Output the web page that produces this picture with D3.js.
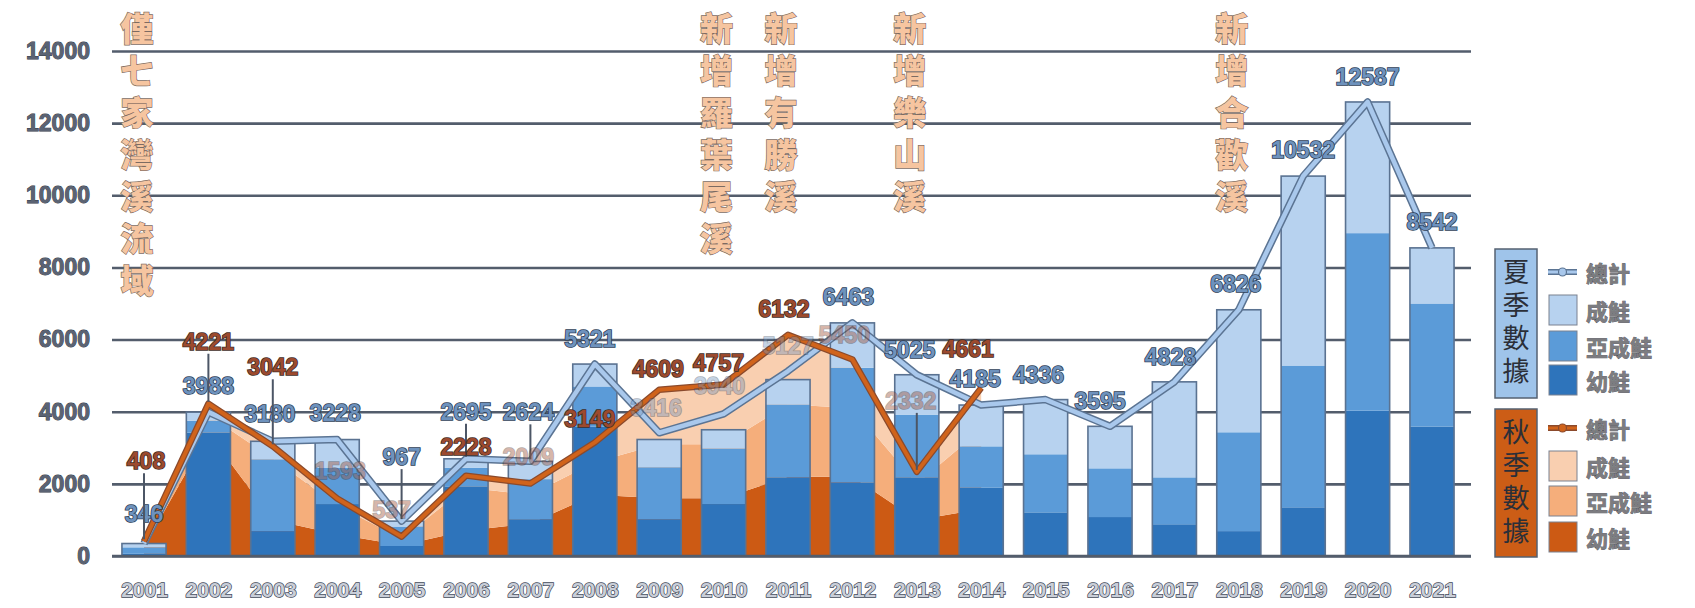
<!DOCTYPE html>
<html>
<head>
<meta charset="utf-8">
<script src="https://cdn.jsdelivr.net/npm/d3@7"></script>
<style>
  body { margin: 0; background: #ffffff; }
  svg { display: block; }
  .vert { writing-mode: vertical-rl; text-orientation: upright; }
</style>
</head>
<body>
<svg id="chart" width="1695" height="608"></svg>
<script>
// ---- data ----
const years = ["2001","2002","2003","2004","2005","2006","2007","2008","2009","2010","2011",
               "2012","2013","2014","2015","2016","2017","2018","2019","2020","2021"];

// summer survey (stacked bars)
const summerJuvenile = [60, 3420, 690, 1440, 277, 1930, 1020, 3590, 1020, 1440, 2180,
                        2040, 2180, 1900, 1210, 1080, 880, 690, 1350, 4030, 3590];
const summerSubadult = [180, 330, 1990, 1000, 540, 520, 1110, 1110, 1440, 1540, 2020,
                        3180, 1740, 1140, 1610, 1350, 1300, 2740, 3930, 4920, 3410];
const summerAdult    = [106, 238, 500, 788, 150, 245, 494, 621, 770, 520, 690,
                        1243, 1105, 1145, 1516, 1165, 2648, 3396, 5252, 3637, 1542];
const summerTotal    = [346, 3988, 3180, 3228, 967, 2695, 2624, 5321, 3416, 3940, 5127,
                        6463, 5025, 4185, 4336, 3595, 4828, 6826, 10532, 12587, 8542];

// autumn survey (stacked areas), 2001-2014
const autumnYears    = years.slice(0, 14);
const autumnJuvenile = [250, 3400, 1000, 600, 300, 700, 900, 1700, 1600, 1600, 2200, 2200, 1000, 1300];
const autumnSubadult = [110, 500, 1700, 800, 180, 1200, 800, 900, 1500, 1500, 2000, 1900, 1000, 2200];
const autumnAdult    = [48, 321, 342, 193, 57, 328, 309, 549, 1509, 1657, 1932, 1350, 332, 1161];
const autumnTotal    = [408, 4221, 3042, 1593, 537, 2228, 2009, 3149, 4609, 4757, 6132, 5450, 2332, 4661];

const yTicks = [0, 2000, 4000, 6000, 8000, 10000, 12000, 14000];

// streams added to the survey
const noteYears = ["2001", "2010", "2011", "2013", "2018"];
const noteTexts = ["僅七家灣溪流域", "新增羅葉尾溪", "新增有勝溪", "新增樂山溪", "新增合歡溪"];

// legend
const legendGroups = ["夏季數據", "秋季數據"];
const legendItems  = ["總計", "成鮭", "亞成鮭", "幼鮭"];

// ---- label placement (pixel nudges for the value labels) ----
const summerLabelDy = [-30,-26,-27,-27,-64,-47,-49,-25,-25,-28,-25,-26,-25,-26,-25,-25,-25,-26,-26,-25,-26];
const summerLabelDx = [0,0,-3,-2,0,0,-2,-5,-3,-4,0,-4,-7,-6,-7,-10,-4,-3,0,0,0];
const summerLabelFaded = [8, 9, 10];
const autumnLabelDy = [-80,-62,-79,-28,-27,-29,-27,-23,-21,-21,-26,-24,-71,-39];
const autumnLabelDx = [2,0,0,3,-10,0,-2,-5,-1,-5,-4,-8,-6,-13];
const autumnLabelFaded = [3, 4, 6, 11, 12];

// ---- styles ----
const C = {
  sJuv: "#2e74bb", sSub: "#5b9bd8", sAdult: "#b7d2ef",
  aJuv: "#cc5a14", aSub: "#f5ae7b", aAdult: "#f9cfb0",
  grid: "#535d6c", barEdge: "#5a7291",
  sLine: "#a9c8ec", sLineEdge: "#5b7493",
  aLine: "#d0631b", aLineEdge: "#8b4a2c"
};
const numFont = "'Liberation Sans', Arial, sans-serif";
const cjkFont = "'Noto Sans CJK TC', 'Noto Sans CJK SC', sans-serif";

const svg = d3.select("#chart");

const x = d3.scalePoint().domain(years).range([111.8, 1464.2]).padding(0.5);
const y = d3.scaleLinear().domain([0, 14000]).range([556, 51]);
const barW = x.step() * 0.685;
const gridLeft = 112, gridRight = 1471;

// ---- grid + y axis ----
const yAxis = d3.axisLeft(y).tickValues(yTicks).tickSize(-(gridRight - gridLeft)).tickPadding(22)
  .tickFormat(d3.format("d"));
const gy = svg.append("g").attr("transform", `translate(${gridLeft},0)`).call(yAxis);
gy.select(".domain").remove();
gy.selectAll(".tick line").attr("stroke", C.grid).attr("stroke-width", 2.6);
gy.selectAll(".tick text")
  .attr("font-family", numFont).attr("font-weight", "bold").attr("font-size", 23)
  .attr("fill", "#5b6373").attr("stroke", "#2f3644").attr("stroke-width", 0.9)
  .attr("paint-order", "stroke");

// ---- autumn stacked areas ----
const autumnRows = autumnYears.map((yr, i) => ({
  year: yr, juv: autumnJuvenile[i], sub: autumnSubadult[i], adult: autumnAdult[i]
}));
const autumnStack = d3.stack().keys(["juv", "sub", "adult"])(autumnRows);
const autumnColor = { juv: C.aJuv, sub: C.aSub, adult: C.aAdult };
const area = d3.area()
  .x(d => x(d.data.year))
  .y0(d => y(d[0]))
  .y1(d => y(d[1]));
svg.append("g").selectAll("path").data(autumnStack).join("path")
  .attr("d", area).attr("fill", d => autumnColor[d.key]);

// ---- summer stacked bars ----
const summerRows = years.map((yr, i) => ({
  year: yr, juv: summerJuvenile[i], sub: summerSubadult[i], adult: summerAdult[i]
}));
const summerStack = d3.stack().keys(["juv", "sub", "adult"])(summerRows);
const summerColor = { juv: C.sJuv, sub: C.sSub, adult: C.sAdult };
const gBars = svg.append("g");
gBars.selectAll("g").data(summerStack).join("g")
  .attr("fill", d => summerColor[d.key])
  .selectAll("rect").data(d => d).join("rect")
  .attr("x", d => x(d.data.year) - barW / 2)
  .attr("width", barW)
  .attr("y", d => y(d[1]))
  .attr("height", d => y(d[0]) - y(d[1]));
// outline around each full stack
gBars.append("g").selectAll("rect").data(summerRows).join("rect")
  .attr("x", d => x(d.year) - barW / 2)
  .attr("width", barW)
  .attr("y", d => y(d.juv + d.sub + d.adult))
  .attr("height", d => y(0) - y(d.juv + d.sub + d.adult))
  .attr("fill", "none").attr("stroke", C.barEdge).attr("stroke-width", 1.6);

// baseline
svg.append("line").attr("x1", gridLeft).attr("x2", gridRight)
  .attr("y1", y(0)).attr("y2", y(0)).attr("stroke", C.grid).attr("stroke-width", 2.6);

// ---- x axis ----
const xAxis = d3.axisBottom(x).tickSize(0).tickPadding(26);
const gx = svg.append("g").attr("transform", `translate(0,${y(0)})`).call(xAxis);
gx.select(".domain").remove();
gx.selectAll(".tick text")
  .attr("font-family", numFont).attr("font-weight", "bold").attr("font-size", 21)
  .attr("fill", "#c9ced8").attr("stroke", "#3e4757").attr("stroke-width", 1.4)
  .attr("paint-order", "stroke");

// ---- total lines ----
const summerPts = years.map((yr, i) => [x(yr), y(summerTotal[i])]);
const autumnPts = autumnYears.map((yr, i) => [x(yr), y(autumnTotal[i])]);
const line = d3.line();
svg.append("path").attr("d", line(summerPts)).attr("fill", "none")
  .attr("stroke", C.sLineEdge).attr("stroke-width", 7.5).attr("stroke-linejoin", "round");
svg.append("path").attr("d", line(summerPts)).attr("fill", "none")
  .attr("stroke", C.sLine).attr("stroke-width", 4.5).attr("stroke-linejoin", "round");
svg.append("path").attr("d", line(autumnPts)).attr("fill", "none")
  .attr("stroke", C.aLineEdge).attr("stroke-width", 6.5).attr("stroke-linejoin", "round");
svg.append("path").attr("d", line(autumnPts)).attr("fill", "none")
  .attr("stroke", C.aLine).attr("stroke-width", 4).attr("stroke-linejoin", "round");

// ---- value labels (with leader lines when lifted far from the point) ----
function drawLabels(yrs, values, dxs, dys, faded, fill, edge) {
  const g = svg.append("g");
  yrs.forEach((yr, i) => {
    const px = x(yr), py = y(values[i]);
    const lx = px + dxs[i], ly = py + dys[i];
    if (dys[i] < -40) {
      g.append("line").attr("x1", px).attr("x2", px)
        .attr("y1", ly + 12).attr("y2", py - 2)
        .attr("stroke", "#4c5666").attr("stroke-width", 2);
    }
    g.append("text").attr("x", lx).attr("y", ly)
      .attr("text-anchor", "middle").attr("dominant-baseline", "central")
      .attr("font-family", numFont).attr("font-weight", "bold").attr("font-size", 23)
      .attr("fill", fill).attr("stroke", edge).attr("stroke-width", 1.6)
      .attr("paint-order", "stroke")
      .attr("opacity", faded.includes(i) ? 0.4 : 1)
      .text(values[i]);
  });
}
drawLabels(years, summerTotal, summerLabelDx, summerLabelDy, summerLabelFaded, "#6e92bd", "#2c3d56");
drawLabels(autumnYears, autumnTotal, autumnLabelDx, autumnLabelDy, autumnLabelFaded, "#9c4a2e", "#3e2b26");

// ---- vertical annotations ----
const gNotes = svg.append("g");
noteYears.forEach((yr, i) => {
  gNotes.append("text")
    .attr("class", "vert")
    .attr("x", x(yr) - 7).attr("y", 12)
    .attr("font-family", cjkFont).attr("font-weight", 900).attr("font-size", 33)
    .attr("letter-spacing", 9)
    .attr("fill", "#f6c5a0").attr("stroke", "#7c6b62").attr("stroke-width", 1.3)
    .attr("paint-order", "stroke")
    .text(noteTexts[i]);
});

// ---- legend ----
const lg = svg.append("g");
const groupBoxes = [
  { y0: 249, y1: 398, fill: "#9fc4ea", rows: [272, 310, 346, 380],
    sw: [C.sAdult, C.sSub, C.sJuv], line: C.sLine, lineEdge: C.sLineEdge },
  { y0: 409, y1: 557, fill: "#cc5d16", rows: [428, 466, 501, 537],
    sw: [C.aAdult, C.aSub, C.aJuv], line: C.aLine, lineEdge: C.aLineEdge }
];
groupBoxes.forEach((b, gi) => {
  lg.append("rect").attr("x", 1495).attr("y", b.y0).attr("width", 42).attr("height", b.y1 - b.y0)
    .attr("fill", b.fill).attr("stroke", "#556272").attr("stroke-width", 1.5);
  lg.append("text").attr("class", "vert")
    .attr("x", 1516).attr("y", b.y0 + 9)
    .attr("font-family", cjkFont).attr("font-size", 27).attr("letter-spacing", 6)
    .attr("fill", "#2b2f38")
    .text(legendGroups[gi]);
  // total line symbol
  lg.append("line").attr("x1", 1548).attr("x2", 1577).attr("y1", b.rows[0]).attr("y2", b.rows[0])
    .attr("stroke", b.lineEdge).attr("stroke-width", 6);
  lg.append("line").attr("x1", 1548).attr("x2", 1577).attr("y1", b.rows[0]).attr("y2", b.rows[0])
    .attr("stroke", b.line).attr("stroke-width", 3);
  lg.append("circle").attr("cx", 1562.5).attr("cy", b.rows[0]).attr("r", 4)
    .attr("fill", b.line).attr("stroke", b.lineEdge).attr("stroke-width", 1.2);
  b.sw.forEach((c, k) => {
    lg.append("rect").attr("x", 1549).attr("y", b.rows[k + 1] - 15).attr("width", 28).attr("height", 30)
      .attr("fill", c).attr("stroke", "#7a8190").attr("stroke-width", 1);
  });
  legendItems.forEach((t, k) => {
    lg.append("text").attr("x", 1586).attr("y", b.rows[k])
      .attr("dominant-baseline", "central")
      .attr("font-family", cjkFont).attr("font-weight", "bold").attr("font-size", 22)
      .attr("fill", "#7c7c80").attr("stroke", "#4e5058").attr("stroke-width", 0.7)
      .attr("paint-order", "stroke")
      .text(t);
  });
});
</script>
</body>
</html>
